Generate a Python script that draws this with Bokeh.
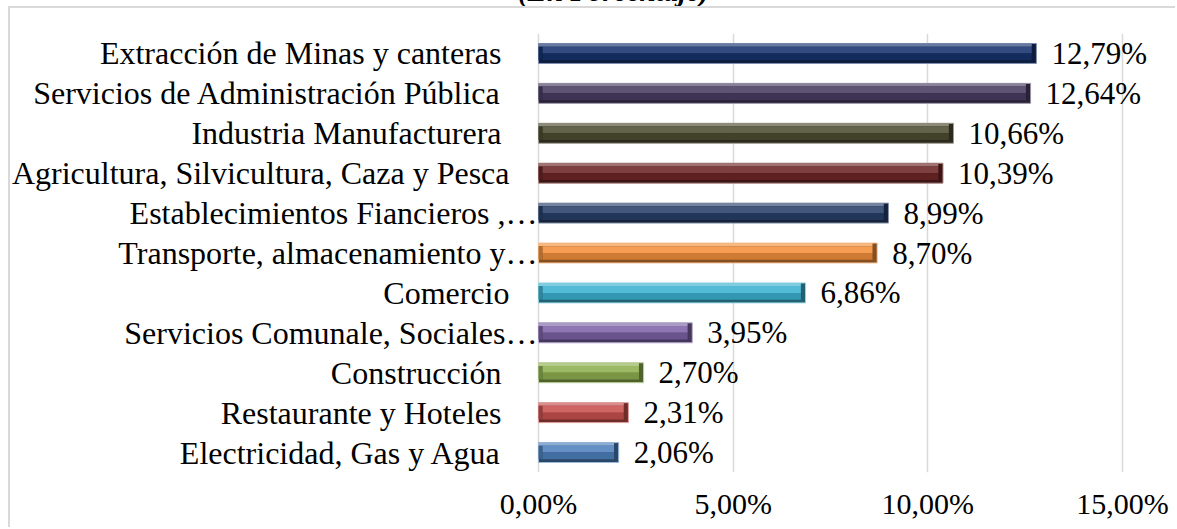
from bokeh.plotting import figure
from bokeh.models import FactorRange, Range1d, FixedTicker, ColumnDataSource, LabelSet, Div
from bokeh.layouts import column
from bokeh.transform import dodge
from bokeh.core.properties import value
from bokeh.embed import file_html
from bokeh.resources import INLINE

# ---- data (top to bottom as displayed) ----
title_text = "(En Porcentaje)"
categories = [
    "Extracción de Minas y canteras",
    "Servicios de Administración Pública",
    "Industria Manufacturera",
    "Agricultura, Silvicultura, Caza y Pesca",
    "Establecimientos Fiancieros ,…",
    "Transporte, almacenamiento y…",
    "Comercio",
    "Servicios Comunale, Sociales…",
    "Construcción",
    "Restaurante y Hoteles",
    "Electricidad, Gas y Agua",
]
values = [12.79, 12.64, 10.66, 10.39, 8.99, 8.70, 6.86, 3.95, 2.70, 2.31, 2.06]
x_ticks = [0, 5, 10, 15]
x_tick_labels = ["0,00%", "5,00%", "10,00%", "15,00%"]
value_labels = [f"{v:.2f}".replace(".", ",") + "%" for v in values]

# ---- styles ----
bar_colors = ["#17336f", "#4a3d62", "#4e4d32", "#6e2627", "#28406a", "#f2903c",
              "#3cb2d0", "#7d63a7", "#8fb050", "#c8514f", "#4f81bd"]
label_gaps = [37, 37, 37, 29, 1, 1, 29, 1, 37, 37, 37]
FONT = "'Liberation Serif'"
PX_PER_UNIT = 38.93
FRAME_LEFT = 528
W, H = 1167, 521


def mix(c, t, k):
    c = c.lstrip("#"); t = t.lstrip("#")
    a = [int(c[i:i + 2], 16) for i in (0, 2, 4)]
    b = [int(t[i:i + 2], 16) for i in (0, 2, 4)]
    return "#" + "".join(f"{round(x + (y - x) * k):02x}" for x, y in zip(a, b))


src = ColumnDataSource(dict(
    cat=categories,
    v=values,
    v_in=[v - 0.12 for v in values],
    zero=[0] * len(values),
    e=[0.1] * len(values),
    neg_gap=[-g for g in label_gaps],
    vlab=value_labels,
    dark=[mix(c, "#000000", 0.45) for c in bar_colors],
    edge=[mix(c, "#ffffff", 0.45) for c in bar_colors],
    light=[mix(c, "#ffffff", 0.35) for c in bar_colors],
    upper=[mix(c, "#ffffff", 0.12) for c in bar_colors],
    lower=[mix(c, "#000000", 0.15) for c in bar_colors],
    leftc=[mix(c, "#000000", 0.25) for c in bar_colors],
))

p = figure(width=W, height=H, output_backend="svg", toolbar_location=None,
           y_range=FactorRange(factors=categories[::-1]),
           x_range=Range1d(-FRAME_LEFT / PX_PER_UNIT, (W - FRAME_LEFT) / PX_PER_UNIT),
           min_border_left=0, min_border_right=0, min_border_top=25, min_border_bottom=57)
p.outline_line_color = None
p.margin = 0
p.styles = {"margin-left": "8px",
            "border-left": "2px solid #d9d9d9", "border-top": "2px solid #d9d9d9"}

# bars with bevel layers
p.hbar(y="cat", left=0, right="v", height=0.5, fill_color="dark", line_color="edge",
       line_width=1, source=src)
p.hbar(y=dodge("cat", 0.21, range=p.y_range), left=0, right="v_in", height=0.08,
       fill_color="light", line_color=None, source=src)
p.hbar(y=dodge("cat", 0.085, range=p.y_range), left="e", right="v_in", height=0.17,
       fill_color="upper", line_color=None, source=src)
p.hbar(y=dodge("cat", -0.085, range=p.y_range), left="e", right="v_in", height=0.17,
       fill_color="lower", line_color=None, source=src)
p.hbar(y="cat", left=0, right="e", height=0.34, fill_color="leftc", line_color=None, source=src)

# axes
p.yaxis.visible = False
p.ygrid.visible = False
p.xgrid.grid_line_color = "#d9d9d9"
p.xgrid.grid_line_width = 1.5
p.xaxis.ticker = FixedTicker(ticks=x_ticks)
p.xaxis.major_label_overrides = dict(zip(x_ticks, x_tick_labels))
p.xaxis.axis_line_color = None
p.xaxis.major_tick_line_color = None
p.xaxis.minor_tick_line_color = None
p.xaxis.major_tick_out = 0
p.xaxis.major_tick_in = 0
p.xaxis.major_label_standoff = 14
p.xaxis.major_label_text_font = FONT
p.xaxis.major_label_text_font_size = "30px"
p.xaxis.major_label_text_color = "black"

# category labels
p.add_layout(LabelSet(x="zero", y="cat", text="cat", x_offset="neg_gap", source=src,
                      text_align="right", text_baseline="middle",
                      text_font=value(FONT), text_font_size="32px", text_color="black"))
# value labels
p.add_layout(LabelSet(x="v", y="cat", text="vlab", x_offset=15, source=src,
                      text_align="left", text_baseline="middle",
                      text_font=value(FONT), text_font_size="31px", text_color="black"))

# title strip (only its lower edge is visible, as in the reference)
title = Div(text=title_text, width=1177, height=6, margin=0,
            styles={"overflow": "hidden"},
            stylesheets=[":host { overflow: hidden; } div { position: relative; top: -23px; "
                         "left: 518px; font: italic bold 29px 'Liberation Serif'; "
                         "line-height: 29px; white-space: nowrap; color: black; }"])

layout = column(title, p, spacing=0)
layout.margin = 0
open("out.html", "w").write(file_html(layout, INLINE))
